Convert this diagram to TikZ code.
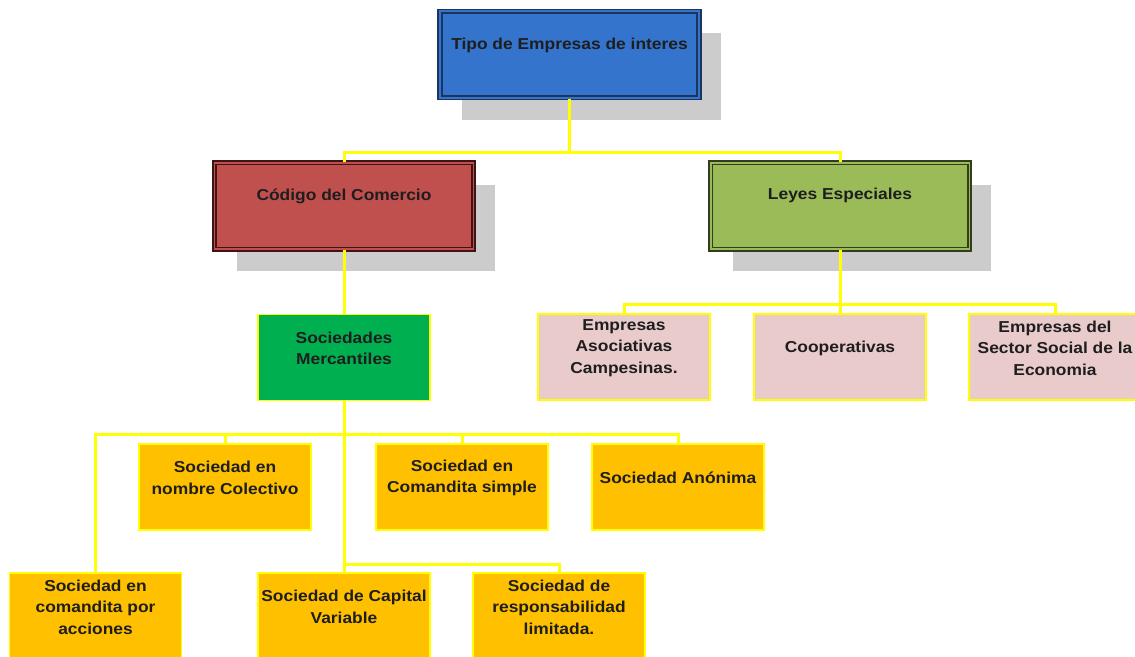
\documentclass[tikz,border=0pt]{standalone}
\usepackage{fontspec}
\setmainfont[FakeStretch=1.1]{Liberation Sans}
\usetikzlibrary{shadows}

\definecolor{tipoblue}{HTML}{3474CC}
\definecolor{tipodark}{HTML}{1C355E}
\definecolor{codred}{HTML}{C0504D}
\definecolor{coddark}{HTML}{3E1514}
\definecolor{leygreen}{HTML}{9BBB59}
\definecolor{leydark}{HTML}{323D1D}
\definecolor{mercgreen}{HTML}{00B050}
\definecolor{boxpink}{HTML}{E9CBCB}
\definecolor{boxorange}{HTML}{FFC000}
\definecolor{lineyellow}{HTML}{FFFF00}
\definecolor{shadowgray}{HTML}{CCCCCC}
\definecolor{textgray}{HTML}{1E1E1E}

\tikzset{
  conn/.style={draw=lineyellow, line width=0.06cm},
  topbox/.style={minimum width=5.18cm, minimum height=1.73cm, inner sep=0pt,
    line width=1pt, double distance=1.1pt,
    drop shadow={shadow xshift=0.44cm, shadow yshift=-0.44cm, fill=shadowgray, opacity=1}},
  subbox/.style={minimum width=3.44cm, minimum height=1.72cm, inner sep=0pt,
    draw=lineyellow, line width=1.1pt},
  txt/.style={align=center, inner sep=0pt, text=textgray,
    font=\fontsize{9}{12.2}\selectfont\bfseries},
}

\begin{document}
\begin{tikzpicture}[x=0.02cm, y=-0.02cm]
        \useasboundingbox (0,0) rectangle (1135,656);

        % Root node
        \node[topbox, fill=tipoblue, draw=tipodark, double=tipoblue] (tipo) at (569.5,54.5) {};
        \node[txt] (tipo-t) at ([yshift=-0.70cm]tipo.north) {Tipo de Empresas de interes};

        % Second stage nodes
        \node[topbox, fill=codred, draw=coddark, double=codred] (codigo) at (344,206) {};
        \node[txt] (codigo-t) at ([yshift=-0.68cm]codigo.north) {Código del Comercio};
        \node[topbox, fill=leygreen, draw=leydark, double=leygreen] (leyes) at (840,206) {};
        \node[txt] (leyes-t) at ([yshift=-0.68cm]leyes.north) {Leyes Especiales};
        \draw[conn] (tipo.south) -- ++(0,54) -| (codigo.north);
        \draw[conn] (tipo.south) -- ++(0,54) -| (leyes.north);

        % Third stage nodes
        \node[subbox, fill=mercgreen] (socmerc) at (344,357.5) {};
        \node[txt] (socmerc-t) at ([yshift=-0.70cm]socmerc.north) {Sociedades\\Mercantiles};
        \draw[conn] (codigo.south) -- (socmerc.north);

        \node[subbox, fill=boxpink] (eac) at (624,357) {};
        \node[txt] (eac-t) at ([yshift=-0.70cm]eac.north) {Empresas\\Asociativas\\Campesinas.};
        \node[subbox, fill=boxpink] (coop) at (840,357) {};
        \node[txt] (coop-t) at ([yshift=-0.70cm]coop.north) {Cooperativas};
        \node[subbox, fill=boxpink] (esse) at (1055,357) {};
        \node[txt] (esse-t) at ([yshift=-0.70cm]esse.north) {Empresas del\\Sector Social de la\\Economia};
        \draw[conn] (leyes.south) -- ++(0,54) -| (eac.north);
        \draw[conn] (leyes.south) -- (coop.north);
        \draw[conn] (leyes.south) -- ++(0,54) -| (esse.north);

        % Fourth stage nodes
        \node[subbox, fill=boxorange] (colectivo) at (225,487) {};
        \node[txt] (colectivo-t) at ([yshift=-0.70cm]colectivo.north) {Sociedad en\\nombre Colectivo};
        \node[subbox, fill=boxorange] (csimple) at (462,487) {};
        \node[txt] (csimple-t) at ([yshift=-0.70cm]csimple.north) {Sociedad en\\Comandita simple};
        \node[subbox, fill=boxorange] (anonima) at (678,487) {};
        \node[txt] (anonima-t) at ([yshift=-0.70cm]anonima.north) {Sociedad Anónima};
        \draw[conn] (socmerc.south) -- ++(0,33) -| (colectivo.north);
        \draw[conn] (socmerc.south) -- ++(0,33) -| (csimple.north);
        \draw[conn] (socmerc.south) -- ++(0,33) -| (anonima.north);

        % Fifth stage nodes
        \node[subbox, fill=boxorange] (acciones) at (95.5,616) {};
        \node[txt] (acciones-t) at ([yshift=-0.70cm]acciones.north) {Sociedad en\\comandita por\\acciones};
        \node[subbox, fill=boxorange] (capvar) at (344,616) {};
        \node[txt] (capvar-t) at ([yshift=-0.70cm]capvar.north) {Sociedad de Capital\\Variable};
        \node[subbox, fill=boxorange] (limitada) at (559,616) {};
        \node[txt] (limitada-t) at ([yshift=-0.70cm]limitada.north) {Sociedad de\\responsabilidad\\limitada.};
        \draw[conn] (socmerc.south) -- ++(0,33) -| (acciones.north);
        \draw[conn] (socmerc.south) -- (capvar.north);
        \draw[conn] (socmerc.south) -- ++(0,163) -| (limitada.north);
\end{tikzpicture}
\end{document}
